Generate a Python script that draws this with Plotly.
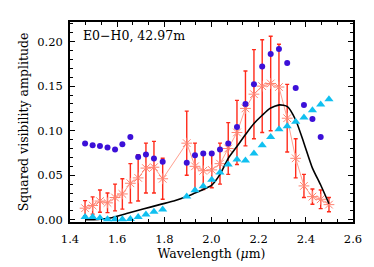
import plotly.graph_objects as go

# Wavelengths (micron) of the data channels
wl = [1.464, 1.496, 1.527, 1.559, 1.591, 1.622, 1.656, 1.689, 1.722, 1.756, 1.793,
      1.895, 1.930, 1.965, 2.001, 2.036, 2.071, 2.108, 2.144, 2.180, 2.215, 2.251,
      2.286, 2.321, 2.357, 2.392, 2.428, 2.463, 2.498]

# Observed squared visibility (red asterisks) with errors
v2_obs = [0.013, 0.016, 0.021, 0.019, 0.025, 0.029, 0.041, 0.047, 0.058, 0.059, 0.046,
          0.086, 0.060, 0.055, 0.056, 0.063, 0.080, 0.098, 0.125, 0.141, 0.150, 0.153,
          0.149, 0.114, 0.069, 0.038, 0.026, 0.023, 0.017]
v2_err = [0.0085, 0.0097, 0.0125, 0.011, 0.015, 0.017, 0.022, 0.026, 0.028, 0.029, 0.023,
          0.036, 0.026, 0.021, 0.020, 0.023, 0.029, 0.036, 0.042, 0.050, 0.052, 0.053,
          0.048, 0.038, 0.022, 0.013, 0.0085, 0.0105, 0.008]

# Purple dots (model A), no point at last channel
v2_purple = [0.0856, 0.0837, 0.0829, 0.0811, 0.0789, 0.0848, 0.093, 0.0706, 0.0733, 0.0688,
             0.065, 0.064, 0.0725, 0.0744, 0.0744, 0.0789, 0.0856, 0.104, 0.130, 0.152,
             0.172, 0.186, 0.1916, 0.176, 0.148, 0.1287, 0.113, 0.093]

# Cyan triangles (model B)
v2_cyan = [0.003, 0.003, 0.002, 0.0005, 0.0005, 0.0005, 0.001, 0.003, 0.006, 0.009, 0.0115,
           0.026, 0.033, 0.0376, 0.045, 0.053, 0.062, 0.0676, 0.0665, 0.0744, 0.0837, 0.093,
           0.1017, 0.105, 0.110, 0.1148, 0.123, 0.1294, 0.1354]

# Black model curve
wl_model = [1.464, 1.52, 1.57, 1.64, 1.71, 1.78, 1.84, 1.895, 1.93, 1.965, 2.001, 2.036,
            2.071, 2.107, 2.145, 2.18, 2.214, 2.248, 2.288, 2.322, 2.357, 2.392, 2.428,
            2.463, 2.498]
v2_model = [0.0, 0.0005, 0.002, 0.007, 0.012, 0.017, 0.021, 0.026, 0.030, 0.034, 0.039,
            0.051, 0.069, 0.082, 0.096, 0.108, 0.117, 0.125, 0.129, 0.127, 0.112, 0.086,
            0.058, 0.039, 0.018]

x_ticks = [1.4, 1.6, 1.8, 2.0, 2.2, 2.4, 2.6]
x_ticktext = ["1.4", "1.6", "1.8", "2.0", "2.2", "2.4", "2.6"]
y_ticks = [0.0, 0.05, 0.10, 0.15, 0.20]
y_ticktext = ["0.00", "0.05", "0.10", "0.15", "0.20"]

FONT = "DejaVu Serif"

fig = go.Figure()

fig.add_trace(go.Scatter(
    x=wl, y=v2_obs, mode="lines+markers",
    line=dict(color="#ffa090", width=1),
    marker=dict(symbol="asterisk-open", size=9, color="#ff8270",
                line=dict(color="#ff8270", width=1)),
    error_y=dict(type="data", array=v2_err, color="#ff2a1a", thickness=1.4, width=2),
))

fig.add_trace(go.Scatter(
    x=wl_model, y=v2_model, mode="lines",
    line=dict(color="black", width=1.6, shape="spline", smoothing=0.6),
))

fig.add_trace(go.Scatter(
    x=wl, y=v2_cyan, mode="markers",
    marker=dict(symbol="triangle-up", size=8, color="#10c0f0"),
))

fig.add_trace(go.Scatter(
    x=wl[:len(v2_purple)], y=v2_purple, mode="markers",
    marker=dict(symbol="circle", size=6, color="#3c10d8"),
))

fig.add_annotation(
    text="E0\u2212H0, 42.97m", xref="paper", yref="paper",
    x=0.04, y=0.93, xanchor="left", yanchor="middle", showarrow=False,
    font=dict(family=FONT, size=12.5, color="black"),
)

axis_common = dict(
    showline=True, linecolor="black", linewidth=1.8, mirror="ticks",
    ticks="inside", ticklen=5, tickwidth=1, tickcolor="black",
    showgrid=False, zeroline=False,
    tickfont=dict(family=FONT, size=11.5, color="black"),
)

fig.update_xaxes(
    range=[1.4, 2.6], tickmode="array", tickvals=x_ticks, ticktext=x_ticktext,
    minor=dict(dtick=0.2 / 3, tick0=1.4, ticks="inside", ticklen=3, tickcolor="black"),
    title=dict(text="Wavelength (<i>\u03bc</i>m)", font=dict(family=FONT, size=12.5, color="black"),
               standoff=2),
    ticklabelstandoff=5,
    **axis_common,
)
fig.update_yaxes(
    range=[-0.0025, 0.222], tickmode="array", tickvals=y_ticks, ticktext=y_ticktext,
    minor=dict(dtick=0.01, tick0=0, ticks="inside", ticklen=3, tickcolor="black"),
    title=dict(text="Squared visibility amplitude", font=dict(family=FONT, size=12.5, color="black"),
               standoff=6),
    ticklabelstandoff=3,
    **axis_common,
)

# page body has an 8px default margin; figure is shifted accordingly
fig.update_layout(
    width=366, height=259,
    margin=dict(l=62, r=21, t=14, b=45),
    plot_bgcolor="white", paper_bgcolor="white",
    showlegend=False,
    font=dict(family=FONT, size=11.5, color="black"),
)

fig.write_html("out.html")
